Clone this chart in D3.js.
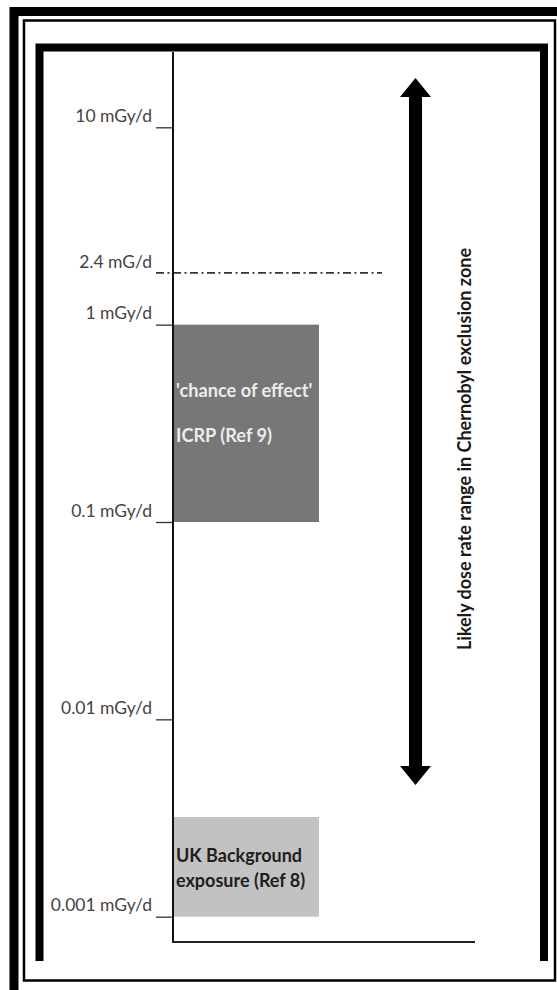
<!DOCTYPE html>
<html>
<head>
<meta charset="utf-8">
<script src="https://cdn.jsdelivr.net/npm/d3@7"></script>
<style>
  html, body { margin: 0; padding: 0; background: #fff; }
  svg { display: block; }
  text { font-family: Lato, "Open Sans", sans-serif; }
</style>
</head>
<body>
<svg id="chart" width="557" height="990"></svg>
<script>
// ---- data ----
const tickValues = [10, 1, 0.1, 0.01, 0.001];
const tickLabels = ["10 mGy/d", "1 mGy/d", "0.1 mGy/d", "0.01 mGy/d", "0.001 mGy/d"];
const thresholdLabel = "2.4 mG/d";
const thresholdValue = 1.83;            // where the dash-dot line sits on the log axis
const boxNames = ["ICRP", "UK"];
const boxLow = [0.1, 0.001];
const boxHigh = [1, 0.0032];
const boxText = [["'chance of effect'", "ICRP (Ref 9)"], ["UK Background", "exposure (Ref 8)"]];
const arrowRange = [0.00465, 17.8];
const arrowLabel = "Likely dose rate range in Chernobyl exclusion zone";

// ---- layout ----
const svg = d3.select("#chart");
const axisX = 173;
const y = d3.scaleLog().domain([0.001, 10]).range([916.7, 127.3]);

// frames
svg.append("rect").attr("x", 14).attr("y", 11.5).attr("width", 548).attr("height", 985)
  .attr("fill", "none").attr("stroke", "#000").attr("stroke-width", 9);
svg.append("rect").attr("x", 24).attr("y", 20.5).attr("width", 531).attr("height", 960)
  .attr("fill", "none").attr("stroke", "#000").attr("stroke-width", 2.5);
svg.append("path").attr("d", "M39.5,961 V47.5 H544 V961")
  .attr("fill", "none").attr("stroke", "#000").attr("stroke-width", 8)
  .attr("stroke-linejoin", "miter").attr("stroke-linecap", "butt");

// boxes
const boxFill = ["#777777", "#c2c2c2"];
const boxTextColor = ["#ececec", "#1e1e1e"];
const boxBaselines = [[397, 441.5], [862, 887]];
const boxFont = [18.2, 18];
boxNames.forEach((n, i) => {
  svg.append("rect")
    .attr("x", axisX + 1).attr("width", 319 - axisX - 1)
    .attr("y", y(boxHigh[i])).attr("height", y(boxLow[i]) - y(boxHigh[i]))
    .attr("fill", boxFill[i]);
  boxText[i].forEach((t, j) => {
    svg.append("text").attr("x", 176).attr("y", boxBaselines[i][j])
      .attr("fill", boxTextColor[i]).attr("font-weight", "bold")
      .attr("font-size", boxFont[i]).text(t);
  });
});

// threshold dash-dot line
svg.append("line")
  .attr("x1", 156).attr("x2", 382)
  .attr("y1", y(thresholdValue)).attr("y2", y(thresholdValue))
  .attr("stroke", "#333").attr("stroke-width", 1.6)
  .attr("stroke-dasharray", "8,3.5,2,3.5");
svg.append("text").attr("x", 152).attr("y", y(thresholdValue) - 5)
  .attr("text-anchor", "end").attr("font-size", 17.5).attr("fill", "#444")
  .text(thresholdLabel);

// axis with ticks
const axis = d3.axisLeft(y).tickValues(tickValues).tickSize(17)
  .tickFormat((d, i) => tickLabels[i]);
const g = svg.append("g").attr("transform", `translate(${axisX},0)`).call(axis);
g.select(".domain").remove();
g.selectAll(".tick line").attr("stroke", "#333").attr("stroke-width", 1.3);
g.selectAll(".tick text")
  .attr("x", -21).attr("dy", -6).attr("dominant-baseline", "auto")
  .attr("font-size", 17.5).attr("fill", "#444")
  .style("font-family", "Lato, 'Open Sans', sans-serif");

// axis lines
svg.append("line").attr("x1", axisX).attr("x2", axisX).attr("y1", 52).attr("y2", 943)
  .attr("stroke", "#111").attr("stroke-width", 2);
svg.append("line").attr("x1", axisX - 1).attr("x2", 475).attr("y1", 942).attr("y2", 942)
  .attr("stroke", "#222").attr("stroke-width", 2);

// double-headed arrow
const ax = 415.5, shaftHalf = 6.5, headHalf = 15.5, headLen = 19;
const yTop = y(arrowRange[1]), yBot = y(arrowRange[0]);
const arrowPath = [
  [ax, yTop], [ax + headHalf, yTop + headLen], [ax + shaftHalf, yTop + headLen],
  [ax + shaftHalf, yBot - headLen], [ax + headHalf, yBot - headLen], [ax, yBot],
  [ax - headHalf, yBot - headLen], [ax - shaftHalf, yBot - headLen],
  [ax - shaftHalf, yTop + headLen], [ax - headHalf, yTop + headLen]
];
svg.append("path").attr("d", d3.line()(arrowPath) + "Z").attr("fill", "#000");

// rotated label
svg.append("text")
  .attr("transform", `translate(471,449) rotate(-90)`)
  .attr("text-anchor", "middle").attr("font-weight", "bold")
  .attr("font-size", 18).attr("fill", "#1a1a1a")
  .text(arrowLabel);
</script>
</body>
</html>
